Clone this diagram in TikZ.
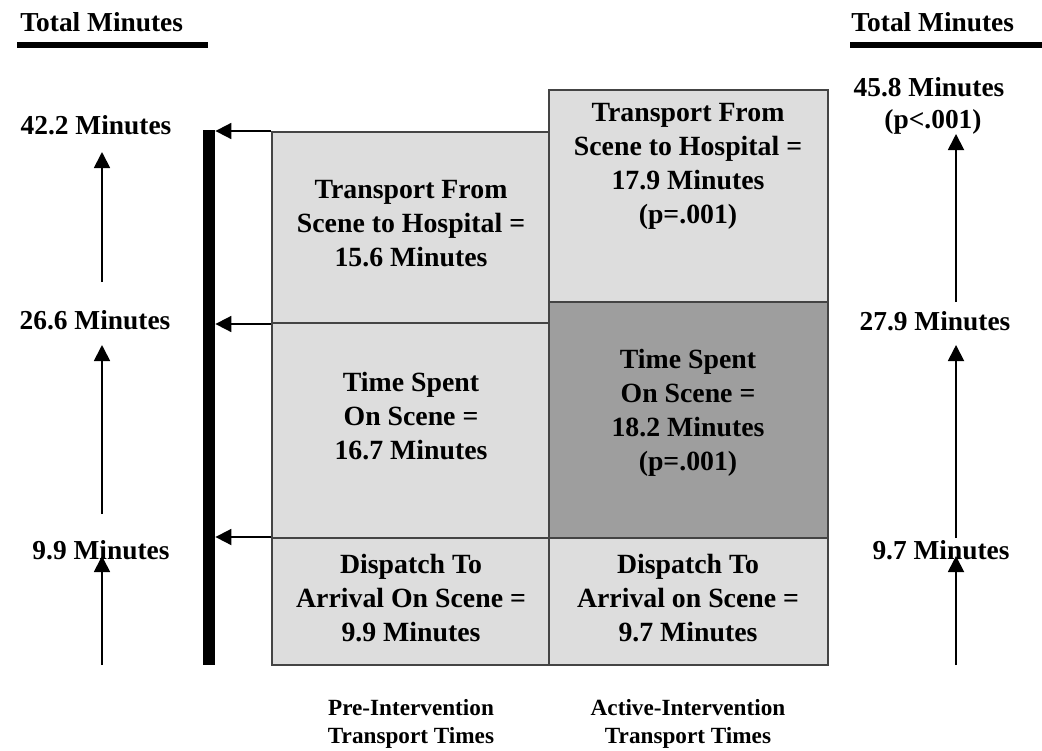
\documentclass[tikz,border=0pt]{standalone}
\usepackage{fontspec}
\setmainfont{Liberation Serif}
\usetikzlibrary{arrows.meta}
\definecolor{lightbox}{HTML}{DDDDDD}
\definecolor{darkbox}{HTML}{9E9E9E}
\definecolor{edge}{HTML}{444444}
\begin{document}
\begin{tikzpicture}[x=0.5pt,y=-0.5pt,
  lbl/.style={font=\fontsize{13.7}{16.5}\selectfont\bfseries, align=center, inner sep=0pt},
  boxtxt/.style={font=\fontsize{13.9}{17}\selectfont\bfseries, align=center, inner sep=0pt},
  captxt/.style={font=\fontsize{11.6}{14}\selectfont\bfseries, align=center, inner sep=0pt},
  cell/.style={draw=edge, line width=1pt, fill=lightbox, inner sep=0pt, rectangle},
  darkcell/.style={cell, fill=darkbox},
  uparr/.style={draw=black, line width=0.9pt, -{Triangle[length=8pt,width=8pt]}},
  leftarr/.style={draw=black, line width=0.9pt, -{Triangle[length=8pt,width=8pt]}},
  underbar/.style={draw=black, line width=3pt}
]
\useasboundingbox (0,0) rectangle (1042,750);

% headers
\node[lbl, anchor=west] (hl) at (20,22) {Total Minutes};
\coordinate (ul1) at (17,45); \coordinate (ul2) at (208,45);
\draw[underbar] (ul1) -- (ul2);
\node[lbl, anchor=west] (hr) at (851,22) {Total Minutes};
\coordinate (ur1) at (850,45); \coordinate (ur2) at (1042,45);
\draw[underbar] (ur1) -- (ur2);

% cells, left column
\node[cell, minimum width=138.5pt, minimum height=95.5pt] (ltop) at (410.5,227.5) {};
\node[cell, minimum width=138.5pt, minimum height=107.5pt] (lmid) at (410.5,430.5) {};
\node[cell, minimum width=138.5pt, minimum height=63.5pt] (lbot) at (410.5,601.5) {};
% cells, right column
\node[cell, minimum width=139.5pt, minimum height=106pt] (rtop) at (688.5,196) {};
\node[darkcell, minimum width=139.5pt, minimum height=118pt] (rmid) at (688.5,420) {};
\node[cell, minimum width=139.5pt, minimum height=63.5pt] (rbot) at (688.5,601.5) {};

% cell texts
\node[boxtxt] (ltopt) at (411,224) {Transport From\\Scene to Hospital =\\15.6 Minutes};
\node[boxtxt] (lmidt) at (411,416) {Time Spent\\On Scene =\\16.7 Minutes};
\node[boxtxt] (lbott) at (411,598) {Dispatch To\\Arrival On Scene =\\9.9 Minutes};
\node[boxtxt] (rtopt) at (688,166) {Transport From\\Scene to Hospital =\\17.9 Minutes\\(p=.001)};
\node[boxtxt] (rmidt) at (688,413) {Time Spent\\On Scene =\\18.2 Minutes\\(p=.001)};
\node[boxtxt] (rbott) at (688,598) {Dispatch To\\Arrival on Scene =\\9.7 Minutes};

% thick bar
\node[fill=black, inner sep=0pt, minimum width=6pt, minimum height=267.5pt] (bar) at (209,397.5) {};

% horizontal arrows to bar
\draw[leftarr] (ltop.north west) -- (ltop.north west -| bar.east);
\draw[leftarr] (ltop.south west) -- (ltop.south west -| bar.east);
\draw[leftarr] (lbot.north west) -- (lbot.north west -| bar.east);

% left labels
\node[lbl] (l422) at (96,125) {42.2 Minutes};
\node[lbl] (l266) at (95,320) {26.6 Minutes};
\node[lbl] (l99) at (101,550) {9.9 Minutes};
% right labels
\node[lbl] (r458) at (929,106) {45.8 Minutes\\[-0.5pt]\hspace*{4pt}(p<.001)};
\node[lbl] (r279) at (935,321) {27.9 Minutes};
\node[lbl] (r97) at (941,550) {9.7 Minutes};

% left vertical arrows
\coordinate (la1s) at (102,282); \coordinate (la1e) at (102,152);
\coordinate (la2s) at (102,514); \coordinate (la2e) at (102,345);
\coordinate (la3s) at (102,665); \coordinate (la3e) at (102,556);
\draw[uparr] (la1s) -- (la1e);
\draw[uparr] (la2s) -- (la2e);
\draw[uparr] (la3s) -- (la3e);
% right vertical arrows
\coordinate (ra1s) at (956,302); \coordinate (ra1e) at (956,134);
\coordinate (ra2s) at (956,538); \coordinate (ra2e) at (956,345);
\coordinate (ra3s) at (956,665); \coordinate (ra3e) at (956,556);
\draw[uparr] (ra1s) -- (ra1e);
\draw[uparr] (ra2s) -- (ra2e);
\draw[uparr] (ra3s) -- (ra3e);

% captions
\node[captxt] (cpre) at (411,724) {Pre-Intervention\\Transport Times};
\node[captxt] (cact) at (688,724) {Active-Intervention\\Transport Times};
\end{tikzpicture}
\end{document}
